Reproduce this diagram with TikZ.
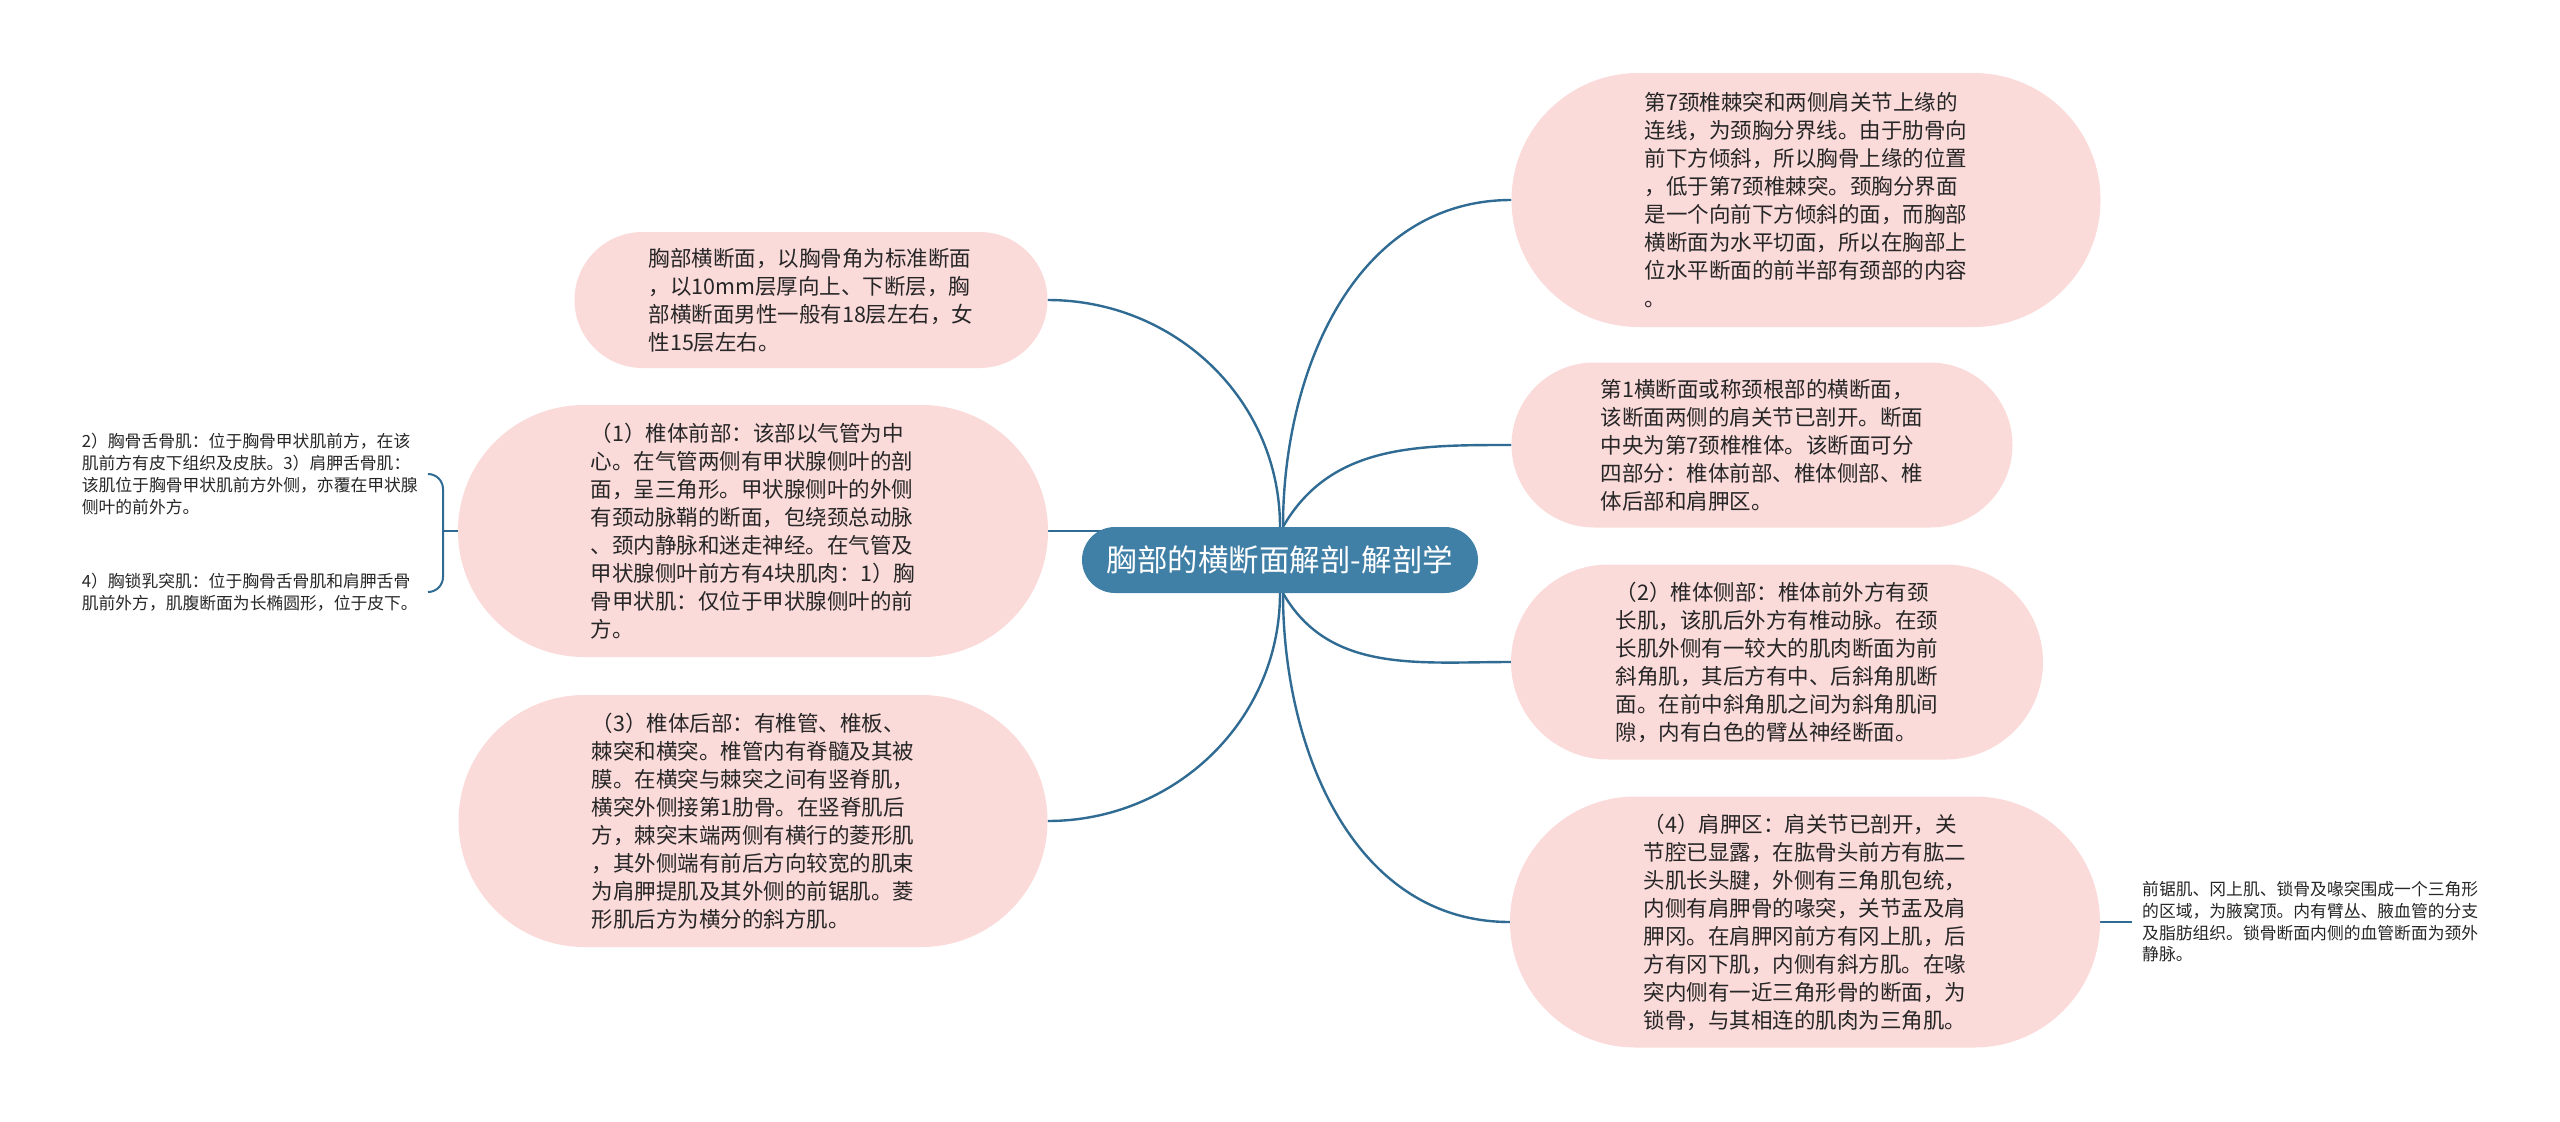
\documentclass[tikz,border=0pt]{standalone}
\usepackage{fontspec}
\usepackage{tikz}
\usetikzlibrary{shapes.misc, backgrounds}
\usepackage{xcolor}
\newfontfamily\cjk{Noto Sans CJK SC}
\definecolor{hubCol}{HTML}{407FA6}
\definecolor{topicCol}{HTML}{FBDADA}
\definecolor{linkCol}{HTML}{2F6B93}
\definecolor{inkCol}{HTML}{262626}

\begin{document}
\begin{tikzpicture}[
    x=1pt, y=-1pt,
    hub/.style={rounded rectangle, fill=hubCol, text=white, font=\cjk\fontsize{30.5}{34}\selectfont, minimum width=396pt, minimum height=66pt, inner sep=0pt},
    topic/.style={rounded rectangle, fill=topicCol, text=inkCol, font=\cjk\fontsize{21.5}{28}\selectfont, align=left, inner sep=0pt},
    leaf/.style={text=inkCol, font=\cjk\fontsize{16.8}{21.7}\selectfont, align=left, inner xsep=10pt, inner ysep=0pt},
    link/.style={draw=linkCol, line width=2.4pt}
]
\useasboundingbox (0,0) rectangle (2560,1122);

% =====================================================================
% CENTRAL HUB
% =====================================================================
\node[hub] (ROOT) at (1280,560) {胸部的横断面解剖-解剖学};

% =====================================================================
% LEFT TOPICS
% =====================================================================
\node[topic, minimum width=473pt, minimum height=136pt] (UP) at (811,300) {胸部横断面，以胸骨角为标准断面\\，以10mm层厚向上、下断层，胸\\部横断面男性一般有18层左右，女\\性15层左右。};
\node[topic, minimum width=590pt, minimum height=252pt] (FRONT) at (753,531) {（1）椎体前部：该部以气管为中\\心。在气管两侧有甲状腺侧叶的剖\\面，呈三角形。甲状腺侧叶的外侧\\有颈动脉鞘的断面，包绕颈总动脉\\、颈内静脉和迷走神经。在气管及\\甲状腺侧叶前方有4块肌肉：1）胸\\骨甲状肌：仅位于甲状腺侧叶的前\\方。};
\node[topic, minimum width=589pt, minimum height=252pt] (BACK) at (753,821) {（3）椎体后部：有椎管、椎板、\\棘突和横突。椎管内有脊髓及其被\\膜。在横突与棘突之间有竖脊肌，\\横突外侧接第1肋骨。在竖脊肌后\\方，棘突末端两侧有横行的菱形肌\\，其外侧端有前后方向较宽的肌束\\为肩胛提肌及其外侧的前锯肌。菱\\形肌后方为横分的斜方肌。};

% leaves of FRONT
\node[leaf, anchor=east] (l1) at (428,474) {2）胸骨舌骨肌：位于胸骨甲状肌前方，在该\\肌前方有皮下组织及皮肤。3）肩胛舌骨肌：\\该肌位于胸骨甲状肌前方外侧，亦覆在甲状腺\\侧叶的前外方。};
\node[leaf, anchor=east] (l2) at (428,592) {4）胸锁乳突肌：位于胸骨舌骨肌和肩胛舌骨\\肌前外方，肌腹断面为长椭圆形，位于皮下。};
\coordinate (brk) at (443,531);

% =====================================================================
% RIGHT TOPICS
% =====================================================================
\node[topic, minimum width=589pt, minimum height=254pt] (NECK) at (1806,200) {第7颈椎棘突和两侧肩关节上缘的\\连线，为颈胸分界线。由于肋骨向\\前下方倾斜，所以胸骨上缘的位置\\，低于第7颈椎棘突。颈胸分界面\\是一个向前下方倾斜的面，而胸部\\横断面为水平切面，所以在胸部上\\位水平断面的前半部有颈部的内容\\。};
\node[topic, minimum width=501pt, minimum height=165pt] (SEC) at (1762,445) {第1横断面或称颈根部的横断面，\\该断面两侧的肩关节已剖开。断面\\中央为第7颈椎椎体。该断面可分\\四部分：椎体前部、椎体侧部、椎\\体后部和肩胛区。};
\node[topic, minimum width=532pt, minimum height=195pt] (SIDE) at (1777,662) {（2）椎体侧部：椎体前外方有颈\\长肌，该肌后外方有椎动脉。在颈\\长肌外侧有一较大的肌肉断面为前\\斜角肌，其后方有中、后斜角肌断\\面。在前中斜角肌之间为斜角肌间\\隙，内有白色的臂丛神经断面。};
\node[topic, minimum width=590pt, minimum height=251pt] (SHLD) at (1805,922) {（4）肩胛区：肩关节已剖开，关\\节腔已显露，在肱骨头前方有肱二\\头肌长头腱，外侧有三角肌包统，\\内侧有肩胛骨的喙突，关节盂及肩\\胛冈。在肩胛冈前方有冈上肌，后\\方有冈下肌，内侧有斜方肌。在喙\\突内侧有一近三角形骨的断面，为\\锁骨，与其相连的肌肉为三角肌。};

% leaf of SHLD
\node[leaf, anchor=west] (l3) at (2132,922) {前锯肌、冈上肌、锁骨及喙突围成一个三角形\\的区域，为腋窝顶。内有臂丛、腋血管的分支\\及脂肪组织。锁骨断面内侧的血管断面为颈外\\静脉。};

% =====================================================================
% EDGES
% =====================================================================
\begin{scope}[on background layer]
    % hub to left topics
    \draw[link] (ROOT.north) to[out=90, in=0] (UP.east);
    \draw[link] (ROOT.center |- FRONT.east) -- (FRONT.east);
    \draw[link] (ROOT.south) to[out=-90, in=0] (BACK.east);

    % hub to right topics
    \foreach \t/\a in {NECK/90, SEC/60}
        \draw[link] ([xshift=3pt]ROOT.north) to[out=\a, in=180] (\t.west);
    \foreach \t/\a in {SIDE/-60, SHLD/-90}
        \draw[link] ([xshift=3pt]ROOT.south) to[out=\a, in=180] (\t.west);

    % topics to leaves
    \draw[link, line width=2pt, rounded corners=15pt] (l1.east) -| (brk) |- (l2.east);
    \draw[link, line width=2pt] (brk) -- (FRONT.west);
    \draw[link, line width=2pt] (SHLD.east) -- (l3.west);
\end{scope}

\end{tikzpicture}
\end{document}
